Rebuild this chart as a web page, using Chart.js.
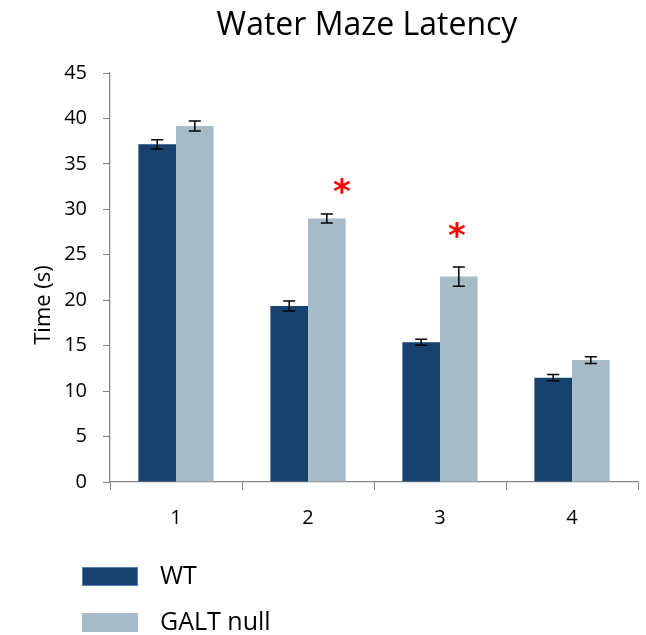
<!DOCTYPE html>
<html>
<head>
<meta charset="utf-8">
<script src="https://cdn.jsdelivr.net/npm/chart.js@4.4.1/dist/chart.umd.min.js"></script>
<style>
  html, body { margin: 0; padding: 0; background: #fff; }
  #wrap { width: 646px; height: 635px; }
</style>
</head>
<body>
<div id="wrap"><canvas id="maze" width="646" height="635"></canvas></div>
<script>
const days = ['1', '2', '3', '4'];
const wtTimes = [37.15, 19.36, 15.37, 11.48];
const wtErrors = [0.5, 0.55, 0.33, 0.35];
const galtTimes = [39.17, 29.0, 22.6, 13.42];
const galtErrors = [0.55, 0.5, 1.06, 0.37];
const starValues = [null, 32.35, 27.54, null]; // significance marks over GALT null bars
const yTicks = [0, 5, 10, 15, 20, 25, 30, 35, 40, 45];

const FONT = '"Open Sans", sans-serif';

// error bars, stars, title, axis title and legend
const extras = {
  id: 'extras',
  afterDatasetsDraw(chart) {
    const ctx = chart.ctx;
    const y = chart.scales.y;
    const errs = [wtErrors, galtErrors];
    ctx.save();
    ctx.strokeStyle = '#000';
    ctx.lineWidth = 1.5;
    chart.data.datasets.forEach((ds, i) => {
      chart.getDatasetMeta(i).data.forEach((bar, j) => {
        const top = y.getPixelForValue(ds.data[j] + errs[i][j]);
        const bot = y.getPixelForValue(ds.data[j] - errs[i][j]);
        ctx.beginPath();
        ctx.moveTo(bar.x, top); ctx.lineTo(bar.x, bot);
        ctx.moveTo(bar.x - 6, top); ctx.lineTo(bar.x + 6, top);
        ctx.moveTo(bar.x - 6, bot); ctx.lineTo(bar.x + 6, bot);
        ctx.stroke();
      });
    });

    // red asterisks
    const starShift = [0, 15, -2, 0];
    ctx.fillStyle = '#ff0000';
    ctx.font = 'bold 34px "DejaVu Sans", sans-serif';
    ctx.textAlign = 'center';
    ctx.textBaseline = 'middle';
    const galtBars = chart.getDatasetMeta(1).data;
    starValues.forEach((v, j) => {
      if (v == null) return;
      ctx.fillText('*', galtBars[j].x + starShift[j], y.getPixelForValue(v) + 6);
    });

    // title
    ctx.fillStyle = '#000';
    ctx.font = '32px ' + FONT;
    ctx.fillText('Water Maze Latency', 367, 26);

    // y axis title
    ctx.save();
    ctx.translate(44, 305);
    ctx.rotate(-Math.PI / 2);
    ctx.font = '22px ' + FONT;
    ctx.fillText('Time (s)', 0, 0);
    ctx.restore();

    // legend, stacked
    ctx.textAlign = 'left';
    ctx.font = '25px ' + FONT;
    chart.data.datasets.forEach((ds, i) => {
      const top = 567 + i * 46;
      ctx.fillStyle = ds.backgroundColor;
      ctx.fillRect(82, top, 56, 19);
      if (i === 0) {
        ctx.strokeStyle = '#4f81bd';
        ctx.lineWidth = 1;
        ctx.strokeRect(82.5, top + 0.5, 55, 18);
      }
      ctx.fillStyle = '#000';
      ctx.fillText(ds.label, 160, top + 10);
    });
    ctx.restore();
  }
};

new Chart('maze', {
  type: 'bar',
  data: {
    labels: days,
    datasets: [
      {
        label: 'WT',
        data: wtTimes,
        backgroundColor: '#17426f',
        borderWidth: 0,
        categoryPercentage: 0.57,
        barPercentage: 1.0,
      },
      {
        label: 'GALT null',
        data: galtTimes,
        backgroundColor: '#a5bcc7',
        borderWidth: 0,
        categoryPercentage: 0.57,
        barPercentage: 1.0,
      },
    ],
  },
  options: {
    responsive: false,
    animation: false,
    layout: { padding: { top: 73, right: 8, left: 0, bottom: 0 } },
    plugins: {
      legend: { display: false },
      title: { display: false },
      tooltip: { enabled: false },
    },
    scales: {
      x: {
        grid: { offset: true, drawOnChartArea: false, tickLength: 8, color: '#868686' },
        border: { color: '#868686', width: 1.3 },
        ticks: { color: '#000', font: { family: FONT, size: 20 }, padding: 16 },
        afterFit(scale) { scale.height = 153; },
      },
      y: {
        min: 0,
        max: 45,
        afterBuildTicks(scale) { scale.ticks = yTicks.map(v => ({ value: v })); },
        grid: { drawOnChartArea: false, tickLength: 7, color: '#868686' },
        border: { color: '#868686', width: 1.3 },
        ticks: { color: '#000', font: { family: FONT, size: 20 }, padding: 16 },
        afterFit(scale) { scale.width = 110; },
      },
    },
  },
  plugins: [extras],
});
</script>
</body>
</html>
